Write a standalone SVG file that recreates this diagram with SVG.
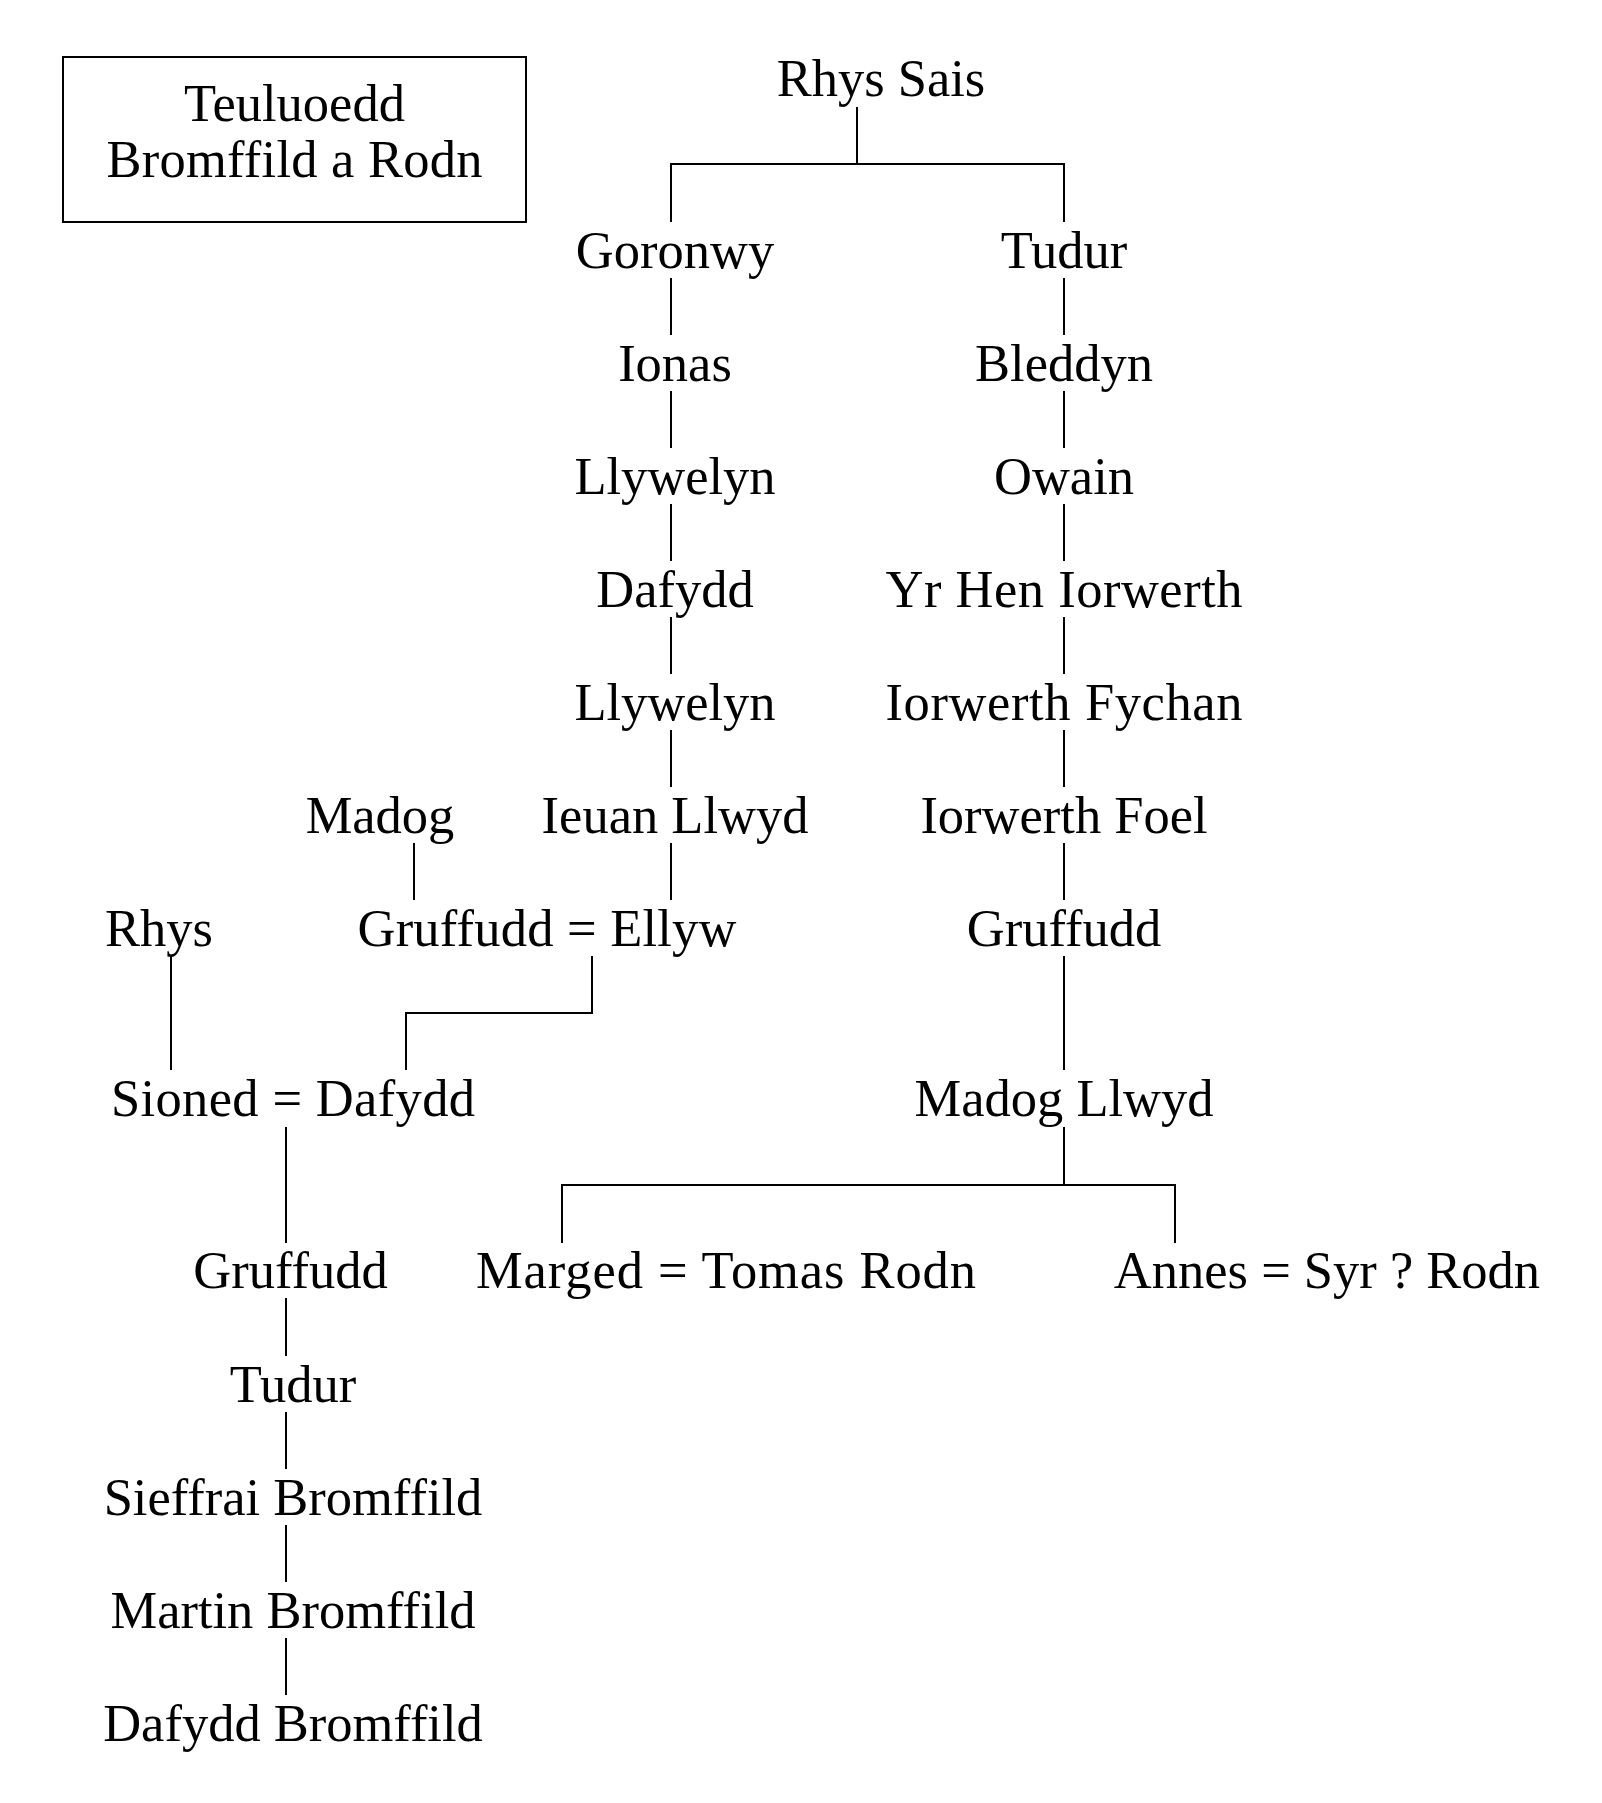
<svg xmlns="http://www.w3.org/2000/svg" width="1602" height="1803" viewBox="0 0 1602 1803">
<style>
text{font-family:"Liberation Serif","Times New Roman",serif;font-size:52.5px;fill:#000;text-anchor:middle}
.c{fill:none;stroke:#000;stroke-width:2}
</style>
<rect width="1602" height="1803" fill="#fff"/>
<g id="title"><rect x="63" y="57" width="463" height="165" fill="none" stroke="#000" stroke-width="2"/><text x="294.5" y="121">Teuluoedd</text><text x="294.5" y="177" textLength="376" lengthAdjust="spacing">Bromffild a Rodn</text></g>
<g id="connectors">
<path class="c" d="M857 107V164M671 222V164H1064V222"/>
<path class="c" d="M671 278V335M671 391V448M671 504V561M671 617V674M671 730V787M671 843V900"/>
<path class="c" d="M1064 278V335M1064 391V448M1064 504V561M1064 617V674M1064 730V787M1064 843V900M1064 956V1070"/>
<path class="c" d="M414 843V900M171 956V1070M592 956V1013H406V1070"/>
<path class="c" d="M286 1127V1243M286 1298V1356M286 1412V1469M286 1525V1582M286 1638V1695"/>
<path class="c" d="M1064 1127V1185M562 1243V1185H1175V1243"/>
</g>
<g id="n-rhys-sais"><text x="881" y="96">Rhys Sais</text></g>
<g id="n-goronwy"><text x="675" y="268">Goronwy</text></g>
<g id="n-ionas"><text x="675" y="381">Ionas</text></g>
<g id="n-llywelyn1"><text x="675" y="494">Llywelyn</text></g>
<g id="n-dafydd1"><text x="675" y="607">Dafydd</text></g>
<g id="n-llywelyn2"><text x="675" y="720">Llywelyn</text></g>
<g id="n-ieuan"><text x="675" y="833">Ieuan Llwyd</text></g>
<g id="n-tudur1"><text x="1064" y="268">Tudur</text></g>
<g id="n-bleddyn"><text x="1064" y="381">Bleddyn</text></g>
<g id="n-owain"><text x="1064" y="494">Owain</text></g>
<g id="n-yrhen"><text x="1064" y="607" textLength="357" lengthAdjust="spacing">Yr Hen Iorwerth</text></g>
<g id="n-fychan"><text x="1064" y="720" textLength="357" lengthAdjust="spacing">Iorwerth Fychan</text></g>
<g id="n-foel"><text x="1064" y="833">Iorwerth Foel</text></g>
<g id="n-gruffudd-r"><text x="1064" y="946">Gruffudd</text></g>
<g id="n-madog-llwyd"><text x="1064" y="1116">Madog Llwyd</text></g>
<g id="n-madog"><text x="380" y="833">Madog</text></g>
<g id="n-rhys"><text x="159" y="946">Rhys</text></g>
<g id="n-gruffudd-ellyw"><text x="547" y="946" textLength="379" lengthAdjust="spacing">Gruffudd = Ellyw</text></g>
<g id="n-sioned-dafydd"><text x="293" y="1116" textLength="364" lengthAdjust="spacing">Sioned = Dafydd</text></g>
<g id="n-gruffudd-l"><text x="290.5" y="1288">Gruffudd</text></g>
<g id="n-marged"><text x="726" y="1288" textLength="500" lengthAdjust="spacing">Marged = Tomas Rodn</text></g>
<g id="n-annes"><text x="1327" y="1288">Annes = Syr ? Rodn</text></g>
<g id="n-tudur2"><text x="293" y="1402">Tudur</text></g>
<g id="n-sieffrai"><text x="293" y="1515">Sieffrai Bromffild</text></g>
<g id="n-martin"><text x="293" y="1628">Martin Bromffild</text></g>
<g id="n-dafydd-b"><text x="293" y="1741">Dafydd Bromffild</text></g>
</svg>
